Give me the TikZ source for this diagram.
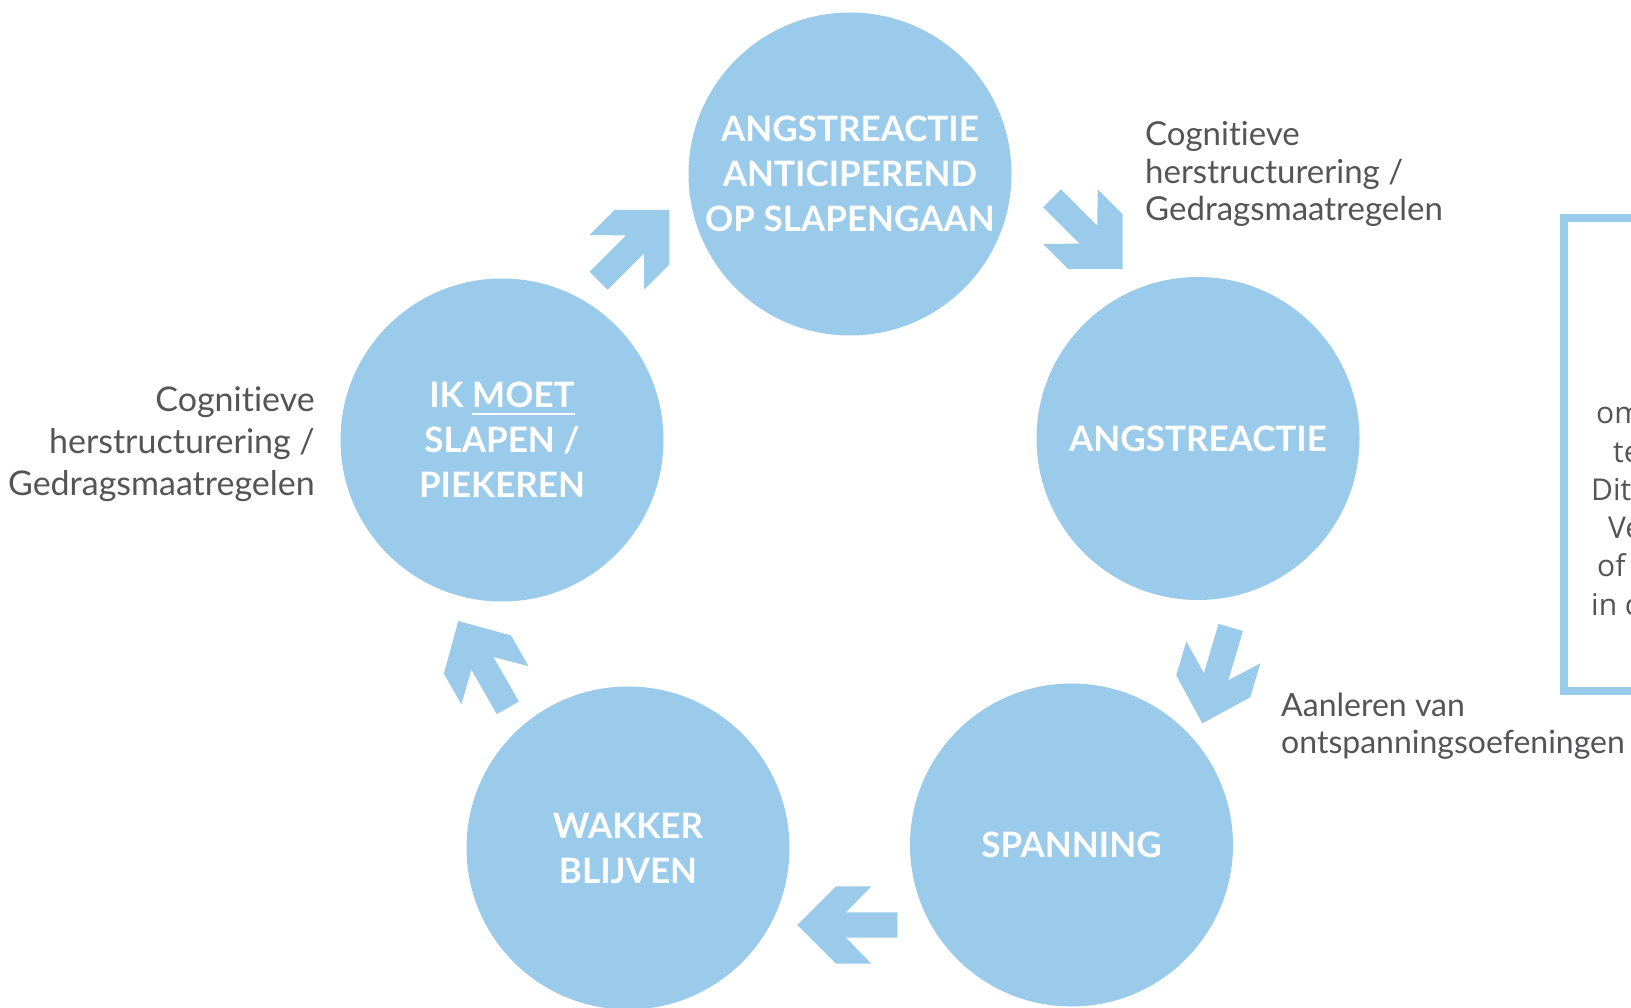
\documentclass[tikz,border=0pt]{standalone}
\usepackage{fontspec}
\setmainfont{Lato}[Ligatures=NoCommon]
\newfontfamily\boxfont{Open Sans}[Ligatures=NoCommon]
\definecolor{cblue}{RGB}{155,203,234}
\definecolor{tgray}{RGB}{85,85,88}
\newcommand\myul[1]{\setbox0\hbox{#1}\rlap{\rule[-7.2pt]{\wd0}{2.3pt}}\box0}
\tikzset{
  ring/.style={circle, fill=cblue, minimum size=323pt, inner sep=0pt, text=white,
    font=\fontsize{35}{45}\selectfont\bfseries, align=center},
  lbl/.style={text=tgray, inner sep=0pt},
  boxtxt/.style={text=tgray, inner sep=0pt, font=\boxfont\fontsize{30}{37}\selectfont, anchor=base west},
  blockarrow/.pic={\fill[cblue] (0,0) -- (-38.6,38.6) -- (-74,38.6) -- (-48.6,12.7) -- (-100,12.7)
    -- (-100,-12.7) -- (-48.6,-12.7) -- (-74,-38.6) -- (-38.6,-38.6) -- cycle;}
}
\begin{document}
\begin{tikzpicture}[x=1pt,y=-1pt]
\path[use as bounding box] (0,0) rectangle (1631,1008);
\fill[white] (0,0) rectangle (1631,1008);
\clip (0,0) rectangle (1631,1008);

% circles
\node[ring] (top) at (850,174) {ANGSTREACTIE\\ANTICIPEREND\\OP SLAPENGAAN};
\node[ring] (angst) at (1198,438.5) {ANGSTREACTIE};
\node[ring] (span) at (1071.5,845) {SPANNING};
\node[ring] (wakker) at (628,848) {WAKKER\\BLIJVEN};
\node[ring] (moet) at (502,440) {IK \myul{MOET}\\SLAPEN /\\PIEKEREN};

% block arrows
\pic[rotate=45] at (669.3,210) {blockarrow};
\pic[rotate=-45] at (1122.7,269) {blockarrow};
\pic[rotate=-106.5] at (1202.3,723.3) {blockarrow};
\pic[rotate=180] at (797.3,925) {blockarrow};
\pic[rotate=119.7] at (458.3,621) {blockarrow};

% labels (base anchor = baseline of the last line)
\node[lbl, anchor=base east, align=right, font=\fontsize{34}{42}\selectfont] (lblL) at (315,495.5)
  {Cognitieve\\herstructurering /\\Gedragsmaatregelen};
\node[lbl, anchor=base west, align=left, font=\fontsize{33}{37.5}\selectfont] (lblR) at (1145,221)
  {Cognitieve\\herstructurering /\\Gedragsmaatregelen};
\node[lbl, anchor=base west, align=left, font=\fontsize{32}{37}\selectfont] (lblB) at (1281,753)
  {Aanleren van\\ontspanningsoefeningen};

% info box (cut off at the right edge)
\node[draw=cblue, line width=8pt, minimum width=200pt, minimum height=472.2pt, inner sep=0pt,
  anchor=north west] (infobox) at (1560,214.5) {};
\node[boxtxt] (b1) at (1596,423.7) {om};
\node[boxtxt] (b2) at (1613,462) {te};
\node[boxtxt] (b3) at (1591,500.3) {Dit};
\node[boxtxt] (b4) at (1608,538.6) {Ve};
\node[boxtxt] (b5) at (1597,576.9) {of};
\node[boxtxt] (b6) at (1591,615.2) {in c};
\end{tikzpicture}
\end{document}
